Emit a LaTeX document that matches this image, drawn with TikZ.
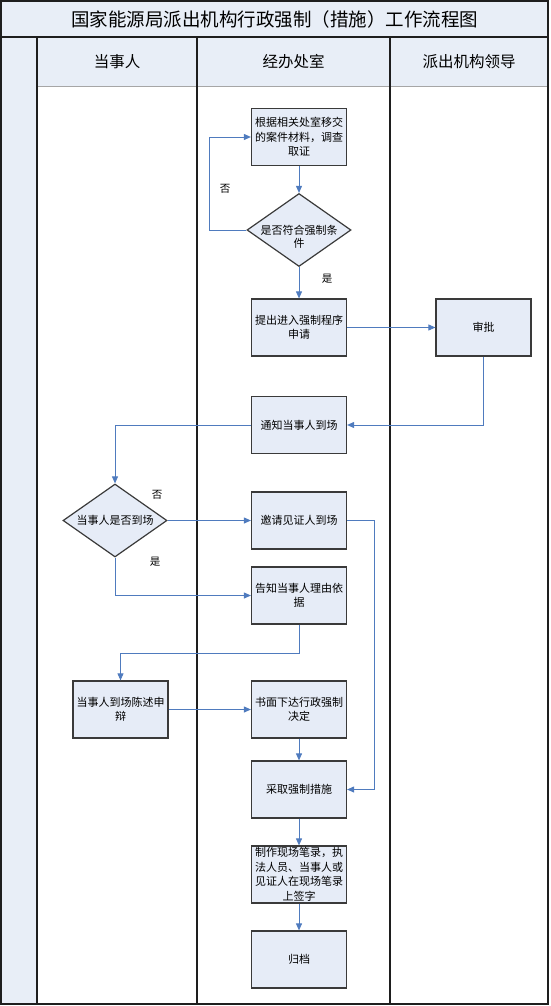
\documentclass[tikz,border=0pt]{standalone}
\usepackage{fontspec}
\newfontfamily\cjk{Noto Sans CJK SC}
\usetikzlibrary{arrows.meta,shapes.geometric}
\definecolor{boxfill}{HTML}{E6ECF7}
\definecolor{bandfill}{HTML}{E8EEF7}
\definecolor{boxline}{HTML}{3A3A3A}
\definecolor{frameline}{HTML}{1E1E1E}
\definecolor{connblue}{HTML}{4F7BBE}
\begin{document}
\begin{tikzpicture}[x=1pt,y=-1pt,
  frame/.style={draw=frameline,line width=1.4pt},
  stepbox/.style={draw=boxline,fill=boxfill,line width=1.2pt,minimum width=95pt,minimum height=57pt,
    align=center,inner sep=1pt,font=\cjk\fontsize{11}{14.5}\selectfont},
  decision/.style={draw=boxline,fill=boxfill,line width=1.2pt,shape=diamond,inner sep=0pt,
    minimum width=104pt,minimum height=73pt},
  txt/.style={align=center,inner sep=0pt,font=\cjk\fontsize{11}{13}\selectfont},
  lbl/.style={inner sep=0pt,font=\cjk\fontsize{10.5}{12}\selectfont},
  conn/.style={draw=connblue,line width=0.9pt,-{Triangle[length=7pt,width=6pt]}}]
\useasboundingbox (0,0) rectangle (550,1006);
% bands
\fill[bandfill] (1,1) rectangle (548,37);
\fill[bandfill] (1,37) rectangle (37,1004);
\fill[bandfill] (37,37) rectangle (548,86);
\draw[gray!70,line width=0.6pt] (37,86) -- (548,86);
\draw[frame] (1,1) rectangle (548,1004);
\draw[frame] (1,37) -- (548,37);
\draw[frame] (37,37) -- (37,1004);
\draw[frame] (197,37) -- (197,1004);
\draw[frame] (390,37) -- (390,1004);
% titles
\node[inner sep=0pt,font=\cjk\fontsize{18.5}{20}\selectfont] (title) at (274.5,19) {国家能源局派出机构行政强制（措施）工作流程图};
\node[inner sep=0pt,font=\cjk\fontsize{15.5}{18}\selectfont] (h1) at (117,62) {当事人};
\node[inner sep=0pt,font=\cjk\fontsize{15.5}{18}\selectfont] (h2) at (293.5,62) {经办处室};
\node[inner sep=0pt,font=\cjk\fontsize{15.5}{18}\selectfont] (h3) at (469,62) {派出机构领导};
% nodes
\node[stepbox] (b1) at (299,137) {根据相关处室移交\\的案件材料，调查\\取证};
\node[decision] (d2) at (299,230) {};
\node[txt] (d2t) at (299,236.5) {是否符合强制条\\件};
\node[stepbox] (b3) at (299,327.5) {提出进入强制程序\\申请};
\node[stepbox] (b4) at (483.5,327.5) {审批};
\node[stepbox] (b5) at (299,425) {通知当事人到场};
\node[decision] (d6) at (115,520.5) {};
\node[txt] (d6t) at (115,520.5) {当事人是否到场};
\node[stepbox] (b7) at (299,520.5) {邀请见证人到场};
\node[stepbox] (b8) at (299,595.5) {告知当事人理由依\\据};
\node[stepbox] (b9) at (120.5,709.5) {当事人到场陈述申\\辩};
\node[stepbox] (b10) at (299,709.5) {书面下达行政强制\\决定};
\node[stepbox] (b11) at (299,789.5) {采取强制措施};
\node[stepbox] (b12) at (299,874.5) {制作现场笔录，执\\法人员、当事人或\\见证人在现场笔录\\上签字};
\node[stepbox] (b13) at (299,959.5) {归档};
% helper coordinates
\coordinate (c1) at (209,230);
\coordinate (c2) at (299,653);
\coordinate (c3) at (374,520.5);
% connectors
\draw[conn] (b1.south) -- (d2.north);
\draw[conn] (d2.west) -- (c1) |- (b1.west);
\draw[conn] (d2.south) -- (b3.north);
\draw[conn] (b3.east) -- (b4.west);
\draw[conn] (b4.south) |- (b5.east);
\draw[conn] (b5.west) -| (d6.north);
\draw[conn] (d6.east) -- (b7.west);
\draw[conn] (d6.south) |- (b8.west);
\draw[conn] (b8.south) -- (c2) -| (b9.north);
\draw[conn] (b9.east) -- (b10.west);
\draw[conn] (b10.south) -- (b11.north);
\draw[conn] (b7.east) -- (c3) |- (b11.east);
\draw[conn] (b11.south) -- (b12.north);
\draw[conn] (b12.south) -- (b13.north);
% labels
\node[lbl] (l1) at (225,189) {否};
\node[lbl] (l2) at (327,279) {是};
\node[lbl] (l3) at (157,495) {否};
\node[lbl] (l4) at (155,562) {是};
\end{tikzpicture}
\end{document}
